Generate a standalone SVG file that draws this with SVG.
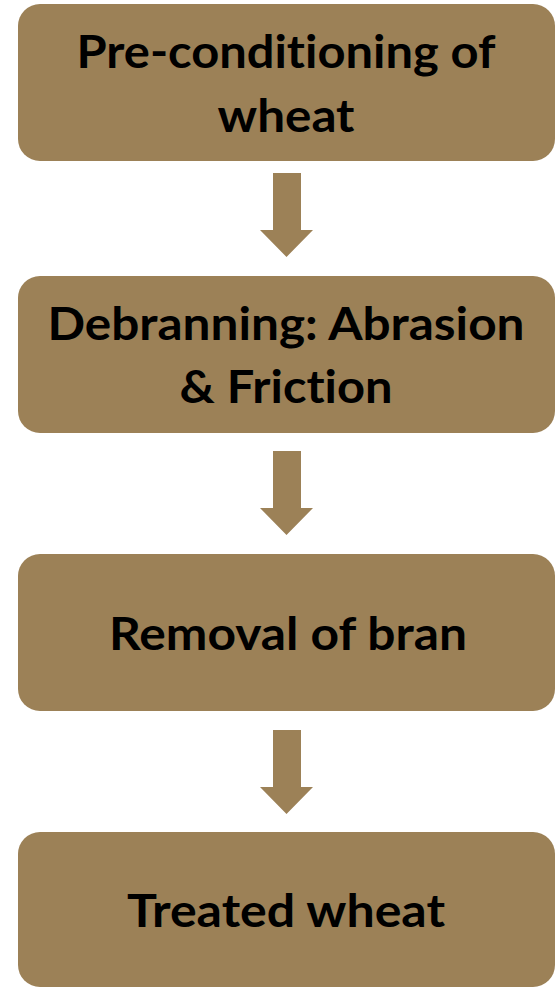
<svg xmlns="http://www.w3.org/2000/svg" width="555" height="987" viewBox="0 0 555 987">
  <style>
    .box { fill: #9c8157; }
    .arrow { fill: #9c8157; }
    .label { font-family: Lato, "Open Sans", "Liberation Sans", sans-serif; font-weight: bold; font-size: 46px; fill: #000; text-anchor: middle; font-variant-ligatures: none; font-feature-settings: "liga" 0, "clig" 0; }
  </style>
  <rect width="555" height="987" fill="#ffffff"/>

  <!-- process steps -->
  <g id="step-preconditioning">
    <rect class="box" x="18" y="4" width="537" height="157" rx="22" ry="22"/>
    <text class="label" x="286" y="68" textLength="419" lengthAdjust="spacingAndGlyphs">Pre-conditioning of</text>
    <text class="label" x="286" y="132" textLength="137" lengthAdjust="spacingAndGlyphs">wheat</text>
  </g>
  <g id="step-debranning">
    <rect class="box" x="18" y="276" width="537" height="157" rx="22" ry="22"/>
    <text class="label" x="286" y="340" textLength="477" lengthAdjust="spacingAndGlyphs">Debranning: Abrasion</text>
    <text class="label" x="286" y="403" textLength="213" lengthAdjust="spacingAndGlyphs">&amp; Friction</text>
  </g>
  <g id="step-removal">
    <rect class="box" x="18" y="554" width="537" height="157" rx="22" ry="22"/>
    <text class="label" x="288" y="650" textLength="358" lengthAdjust="spacingAndGlyphs">Removal of bran</text>
  </g>
  <g id="step-treated">
    <rect class="box" x="18" y="832" width="537" height="155" rx="22" ry="22"/>
    <text class="label" x="286" y="927" textLength="318" lengthAdjust="spacingAndGlyphs">Treated wheat</text>
  </g>

  <!-- block arrows between steps -->
  <g id="connectors">
    <polygon class="arrow" points="273,173 301,173 301,230 313,230 286.5,257 260,230 273,230"/>
    <polygon class="arrow" points="273,451 301,451 301,508 313,508 286.5,535 260,508 273,508"/>
    <polygon class="arrow" points="273,730 301,730 301,787 313,787 286.5,814 260,787 273,787"/>
  </g>
</svg>
